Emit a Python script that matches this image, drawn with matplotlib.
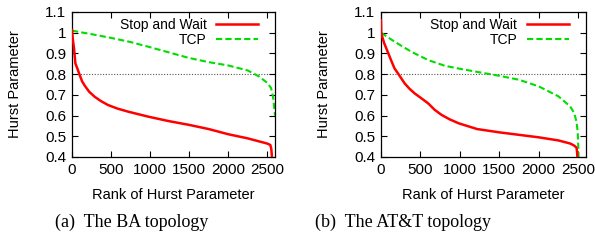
import matplotlib
matplotlib.use("Agg")
from matplotlib import pyplot as plt

plt.rcParams['font.family'] = ['Liberation Sans', 'DejaVu Sans']

# (a) BA topology
ba_sw_rank = [0, 10, 26, 43, 68, 98, 130, 162, 220, 290, 370, 461, 580, 718, 974, 1230,
              1500, 1750, 2000, 2250, 2400, 2500, 2540, 2552, 2558, 2562]
ba_sw_hurst = [1.013, 0.97, 0.924, 0.852, 0.828, 0.796, 0.765, 0.745, 0.715, 0.691, 0.67,
               0.651, 0.634, 0.619, 0.595, 0.574, 0.555, 0.535, 0.51, 0.49, 0.475, 0.465,
               0.458, 0.44, 0.415, 0.39]
ba_tcp_rank = [0, 100, 250, 500, 750, 1000, 1250, 1500, 1750, 2000, 2250, 2300, 2400,
               2500, 2550, 2575, 2590, 2600]
ba_tcp_hurst = [1.01, 1.003, 0.993, 0.975, 0.955, 0.93, 0.904, 0.878, 0.858, 0.842,
                0.818, 0.808, 0.788, 0.758, 0.733, 0.69, 0.64, 0.6]

# (b) AT&T topology
att_sw_rank = [0, 3, 8, 40, 85, 130, 171, 222, 299, 360, 427, 510, 598, 680, 769, 870,
               983, 1218, 1500, 1750, 2000, 2250, 2400, 2450, 2480, 2488, 2492]
att_sw_hurst = [1.06, 1.0, 0.99, 0.95, 0.908, 0.865, 0.828, 0.8, 0.756, 0.73, 0.707, 0.684,
                0.659, 0.628, 0.603, 0.582, 0.563, 0.535, 0.519, 0.507, 0.495, 0.48,
                0.465, 0.455, 0.445, 0.42, 0.39]
att_tcp_rank = [0, 171, 385, 598, 812, 1000, 1218, 1500, 1750, 2000, 2250, 2400, 2450,
                2480, 2495, 2502, 2506]
att_tcp_hurst = [1.0, 0.957, 0.908, 0.868, 0.84, 0.826, 0.811, 0.792, 0.773, 0.741, 0.693,
                 0.644, 0.612, 0.57, 0.52, 0.45, 0.39]

threshold = 0.8
x_ticks = [0, 500, 1000, 1500, 2000, 2500]
y_ticks = [0.4, 0.5, 0.6, 0.7, 0.8, 0.9, 1.0, 1.1]
y_labels = ['0.4', '0.5', '0.6', '0.7', '0.8', '0.9', '1', '1.1']
captions = ['(a)  The BA topology', '(b)  The AT&T topology']

fig = plt.figure(figsize=(5.95, 2.49), dpi=100)
ax1 = fig.add_axes([72 / 595, 1 - 157 / 249, 203 / 595, 145 / 249])
ax2 = fig.add_axes([381 / 595, 1 - 157 / 249, 205 / 595, 145 / 249])

panels = [(ax1, ba_sw_rank, ba_sw_hurst, ba_tcp_rank, ba_tcp_hurst),
          (ax2, att_sw_rank, att_sw_hurst, att_tcp_rank, att_tcp_hurst)]
cap_x = [132 / 595, 403 / 595]

for i, (ax, sr, sh, tr, th) in enumerate(panels):
    ax.axhline(threshold, color='#555555', linestyle=(0, (1, 1.5)), linewidth=0.8, zorder=1)
    ax.plot(sr, sh, color='#ff0000', linewidth=1.8, label='Stop and Wait', zorder=3)
    ax.plot(tr, th, color='#00dd00', linewidth=1.5, linestyle=(0, (3, 1.5)),
            label='TCP', zorder=2)
    ax.set_xlim(0, 2600)
    ax.set_ylim(0.4, 1.1)
    ax.set_xticks(x_ticks)
    ax.set_yticks(y_ticks)
    ax.set_yticklabels(y_labels)
    ax.tick_params(direction='in', top=True, right=True, length=4, width=0.8,
                   labelsize=11, pad=4, colors='black')
    for sp in ax.spines.values():
        sp.set_linewidth(0.9)
    ax.set_xlabel('Rank of Hurst Parameter', fontsize=10.5, labelpad=8)
    ax.set_ylabel('Hurst Parameter', fontsize=10.5, labelpad=17)
    leg = ax.legend(loc='upper right', bbox_to_anchor=(0.936, 0.99), fontsize=10,
                    frameon=False, markerfirst=False, handlelength=3.0,
                    handletextpad=0.7, borderaxespad=0.0, borderpad=0.3,
                    labelspacing=0.1)
    for t in leg.get_texts():
        t.set_ha('right')
    fig.text(cap_x[i], 1 - 222 / 249, captions[i], ha='center', va='center',
             fontsize=13, family=['Liberation Serif', 'DejaVu Serif'])

fig.savefig('out.png', dpi=100)
